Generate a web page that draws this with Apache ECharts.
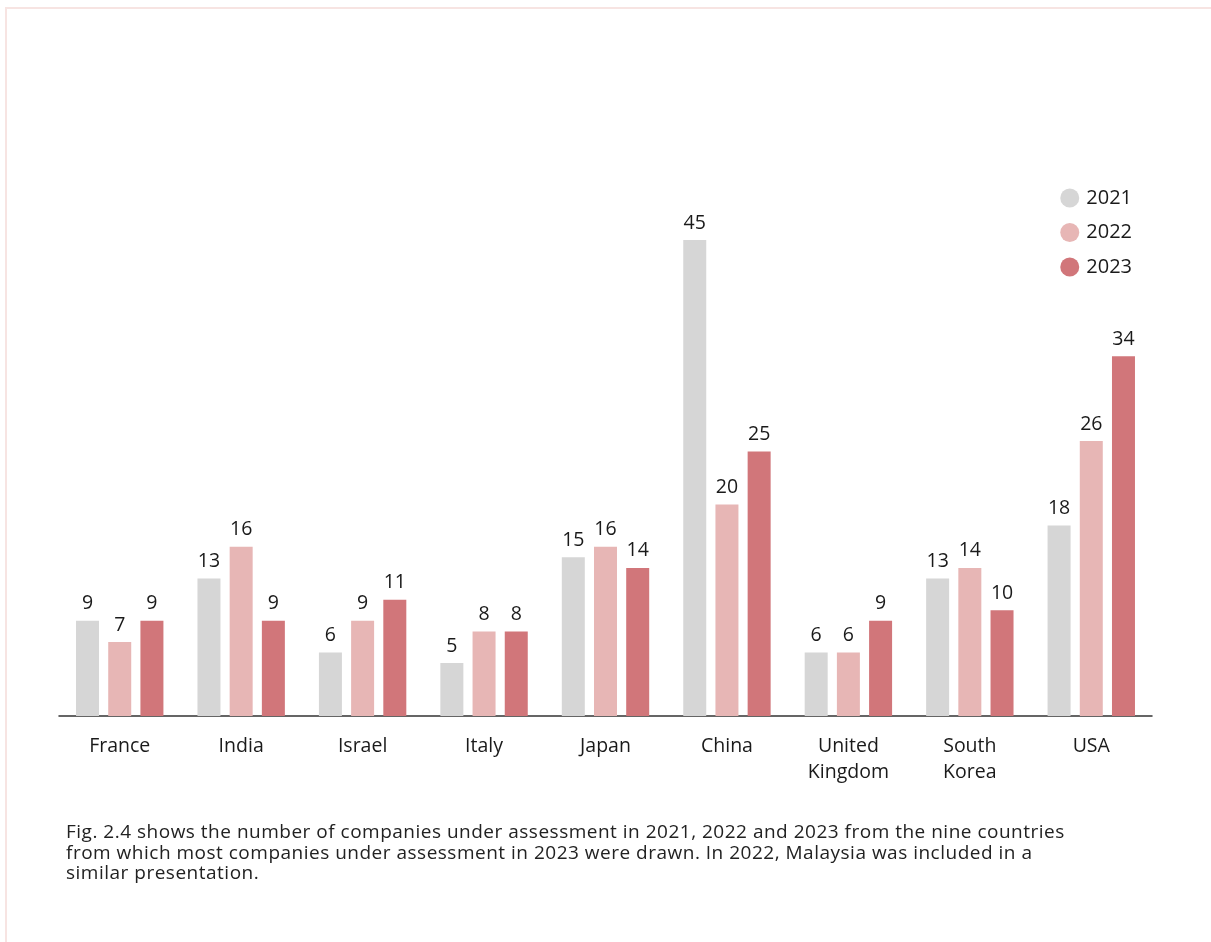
<!DOCTYPE html>
<html><head><meta charset="utf-8">
<script src="https://cdn.jsdelivr.net/npm/echarts@6/dist/echarts.min.js"></script>
<style>
html,body{margin:0;padding:0;background:#fff;width:1211px;height:942px;overflow:hidden;}
#frame{position:absolute;left:5px;top:7px;width:1230px;height:960px;border-left:2.5px solid #f7e4e2;border-top:2.5px solid #f7e4e2;}
#chart{position:absolute;left:0;top:0;width:1211px;height:942px;}
#cap{position:absolute;left:66px;top:821px;white-space:nowrap;font-family:"Open Sans",sans-serif;font-size:19px;line-height:20.5px;color:#222;letter-spacing:0.5px;}
</style></head>
<body>
<div id="frame"></div>
<div id="chart"></div>
<div id="cap">Fig. 2.4 shows the number of companies under assessment in 2021, 2022 and 2023 from the nine countries<br>from which most companies under assessment in 2023 were drawn. In 2022, Malaysia was included in a<br>similar presentation.</div>
<script>
const categories = ["France","India","Israel","Italy","Japan","China","United\nKingdom","South\nKorea","USA"];
const seriesNames = ["2021","2022","2023"];
const values2021 = [9,13,6,5,15,45,6,13,18];
const values2022 = [7,16,9,8,16,20,6,14,26];
const values2023 = [9,9,11,8,14,25,9,10,34];
const colors = ["#d6d6d6","#e7b6b5","#d1767a"];

const chart = echarts.init(document.getElementById('chart'), null, {renderer:'canvas'});
const font = '"Open Sans", sans-serif';
const mk = (name, data, i) => ({
  name, type:'bar', data, barWidth:23, barGap:'40%',
  itemStyle:{color:colors[i]},
  label:{show:true, position:'top', distance:7, color:'#1a1a1a', fontSize:19.5, fontFamily:font},
  emphasis:{disabled:true}
});
chart.setOption({
  animation:false,
  textStyle:{fontFamily:font},
  legend:{
    orient:'vertical', right:74, top:183, itemGap:14.5, icon:'circle', itemWidth:19, itemHeight:19,
    textStyle:{fontSize:20, color:'#1a1a1a', fontFamily:font, padding:[0,0,0,2]},
    data:seriesNames
  },
  grid:{left:59, right:59, top:240, bottom:226},
  xAxis:{
    type:'category', data:categories,
    axisLine:{lineStyle:{color:'#333', width:1.5}},
    axisTick:{show:false},
    axisLabel:{color:'#1a1a1a', fontSize:19.5, fontFamily:font, margin:17, lineHeight:26, interval:0}
  },
  yAxis:{type:'value', min:0, max:45, show:false, splitLine:{show:false}},
  series:[mk(seriesNames[0], values2021, 0), mk(seriesNames[1], values2022, 1), mk(seriesNames[2], values2023, 2)]
});
</script>
</body></html>
